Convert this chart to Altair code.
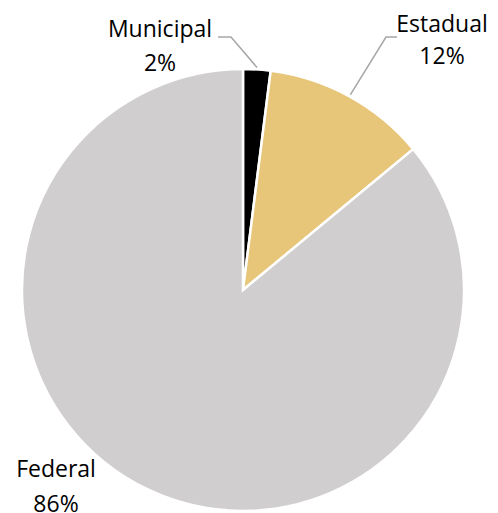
import math
import altair as alt
import pandas as pd

# ---- data ----
categories = ["Municipal", "Estadual", "Federal"]
values = [2, 12, 86]
labels = ["Municipal\n2%", "Estadual\n12%", "Federal\n86%"]
colors = ["#000000", "#E7C579", "#D0CECE"]

# ---- layout (pixels, chart coordinates) ----
W, H = 482, 505
CX, CY, R = 235, 282, 221
FONT = "Open Sans"
FONT_SIZE = 23
# label anchor (center x, first-line baseline y) and leader elbow per category
label_pos = {"Municipal": (152, 29), "Estadual": (434, 24), "Federal": (48, 469)}
leader = {"Municipal": [(223, 29), (210, 29)], "Estadual": [(378, 29), (389, 29)]}
line_height = {"Municipal": 34, "Estadual": 32, "Federal": 35}

total = sum(values)
rows = []
cum = 0.0
for i, (c, v) in enumerate(zip(categories, values)):
    mid = (cum + v / 2) / total * 2 * math.pi
    cum += v
    rows.append({"cat": c, "val": v, "order": i, "mid": mid})
df = pd.DataFrame(rows)

pie = alt.Chart(df).mark_arc(outerRadius=R, stroke="white", strokeWidth=2.5).encode(
    theta=alt.Theta("val:Q", stack=True),
    order=alt.Order("order:Q"),
    color=alt.Color("cat:N", scale=alt.Scale(domain=categories, range=colors), legend=None),
    x=alt.value(CX),
    y=alt.value(CY),
)

# leader lines from slice edge to elbow to label
lrows = []
for _, r in df.iterrows():
    if r["cat"] not in leader:
        continue
    ex = CX + (R + 2) * math.sin(r["mid"])
    ey = CY - (R + 2) * math.cos(r["mid"])
    pts = [(ex, ey)] + leader[r["cat"]]
    for k, (px, py) in enumerate(pts):
        lrows.append({"cat": r["cat"], "k": k, "px": px, "py": py})
ldf = pd.DataFrame(lrows)

lines = alt.Chart(ldf).mark_line(color="#A6A6A6", strokeWidth=1.5).encode(
    x=alt.X("px:Q", scale=None),
    y=alt.Y("py:Q", scale=None),
    detail="cat:N",
    order="k:Q",
)

texts = []
for c, lab in zip(categories, labels):
    tx, ty = label_pos[c]
    tdf = pd.DataFrame([{"lab": lab, "tx": tx, "ty": ty}])
    texts.append(
        alt.Chart(tdf).mark_text(
            font=FONT, fontSize=FONT_SIZE, color="#000000", align="center",
            baseline="alphabetic", lineBreak="\n", lineHeight=line_height[c],
        ).encode(
            x=alt.X("tx:Q", scale=None),
            y=alt.Y("ty:Q", scale=None),
            text="lab:N",
        )
    )

chart = alt.layer(pie, lines, *texts).properties(
    width=W, height=H, padding=0, autosize=alt.AutoSizeParams(type="none")
).configure_view(stroke=None)

chart.save("out.html", embed_options={"renderer": "svg", "actions": False})
